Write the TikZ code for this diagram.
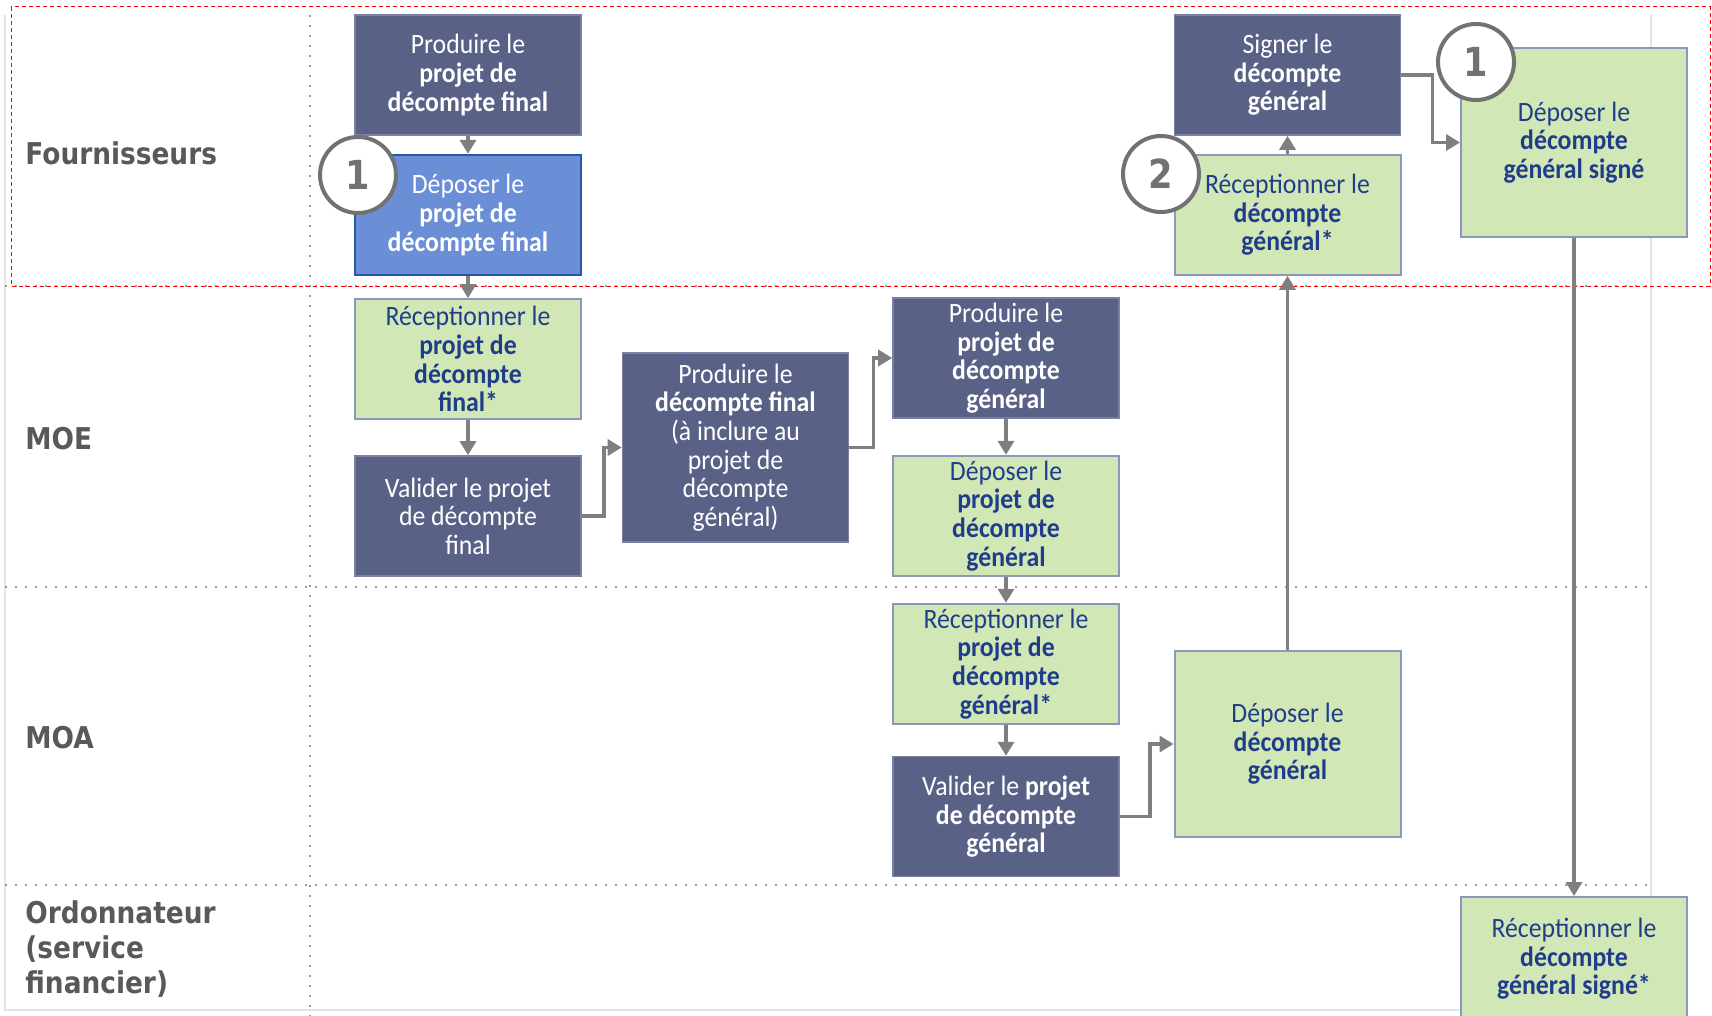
\documentclass[tikz,border=0pt]{standalone}
\usepackage{fontspec}
\setmainfont[FakeStretch=0.92]{Carlito}
\newfontfamily\lanefont[FakeStretch=0.88]{DejaVu Sans}
\usepackage{tikz}
\usetikzlibrary{
arrows.meta,
positioning
}
\definecolor{DGNavy}{HTML}{5A6186}
\definecolor{DGNavyLine}{HTML}{7A80A3}
\definecolor{DGGreenBG}{HTML}{D2E7B6}
\definecolor{DGGreenLine}{HTML}{8C97BE}
\definecolor{DGText}{HTML}{1F3D8B}
\definecolor{DGBlue}{HTML}{6A8FD6}
\definecolor{DGBlueLine}{HTML}{2B55A6}
\definecolor{DGArrow}{HTML}{7F7F7F}
\definecolor{DGLabel}{HTML}{595959}
\definecolor{DGFrame}{HTML}{E3E3E3}
\definecolor{DGDots}{HTML}{9A9A9A}
\newcommand{\dgboxfont}{\fontsize{14}{14.3}\selectfont}
\tikzset{
dgdark/.style={draw=DGNavyLine, fill=DGNavy, text=white, align=center,
  minimum width=113pt, minimum height=60pt, inner sep=1pt, line width=0.8pt, font=\dgboxfont},
dggreen/.style={draw=DGGreenLine, fill=DGGreenBG, text=DGText, align=center,
  minimum width=113pt, minimum height=60pt, inner sep=1pt, line width=1pt, font=\dgboxfont},
dgblue/.style={draw=DGBlueLine, fill=DGBlue, text=white, align=center,
  minimum width=113pt, minimum height=60pt, inner sep=1pt, line width=1.2pt, font=\dgboxfont},
dgarrow/.style={-{Triangle[length=7pt, width=8pt]}, line width=1.7pt, draw=DGArrow},
dgbadge/.style={circle, draw=DGArrow!90!black, fill=white, line width=2pt, minimum size=38pt,
  inner sep=0pt, text=DGArrow!90!black, font=\lanefont\bfseries\fontsize{20}{20}\selectfont},
dglane/.style={anchor=west, inner sep=0pt, align=left, text=DGLabel,
  font=\lanefont\bfseries\fontsize{15}{17.7}\selectfont},
dgdots/.style={draw=DGDots, line width=1.1pt, dash pattern=on 1.1pt off 3.9pt},
dgframe/.style={draw=DGFrame, line width=0.8pt},
dgred/.style={draw=red, line width=0.5pt, dash pattern=on 2pt off 1.5pt}
}

\begin{document}
\begin{tikzpicture}[x=0.5pt, y=-0.5pt, node distance=9pt]
\useasboundingbox (0,0) rectangle (1712,1016);

% couloirs
\draw[dgframe] (5,15) -- (5,1010) -- (1651,1010) -- (1651,15);
\draw[dgdots] (310,15) -- (310,1016);
\foreach \y in {286,587,885}
\draw[dgdots] (5,\y) -- (1651,\y);
\draw[dgred] (11,7) rectangle (1710,286);

\node[dglane] (fourn) at (25,153) {Fournisseurs};
\node[dglane] (moe) at (25,439) {MOE};
\node[dglane] (moa) at (25,738) {MOA};
\node[dglane] (ordo) at (25,949) {Ordonnateur\\(service\\financier)};

% decompte final
\node[dgdark] (prodfin) at (468,75) {Produire le\\\textbf{projet de}\\\textbf{décompte final}};
\node[dgblue, below=of prodfin] (depfin) {Déposer le\\\textbf{projet de}\\\textbf{décompte final}};
\node[dggreen, below=11pt of depfin] (recfin) {Réceptionner le\\\textbf{projet de}\\\textbf{décompte}\\\textbf{final*}};
\node[dgdark, below=17.5pt of recfin] (valfin) {Valider le projet\\de décompte\\final};
\node[dgdark, minimum height=94.5pt] (prodfinal) at (735.5,447.5) {Produire le\\\textbf{décompte final}\\(à inclure au\\projet de\\décompte\\général)};

% projet de decompte general
\node[dgdark] (prodgen) at (1006,358) {Produire le\\\textbf{projet de}\\\textbf{décompte}\\\textbf{général}};
\node[dggreen, below=18pt of prodgen] (depgen) {Déposer le\\\textbf{projet de}\\\textbf{décompte}\\\textbf{général}};
\node[dggreen, below=13pt of depgen] (recgen) {Réceptionner le\\\textbf{projet de}\\\textbf{décompte}\\\textbf{général*}};
\node[dgdark, below=15.5pt of recgen] (valgen) {Valider le \textbf{projet}\\\textbf{de décompte}\\\textbf{général}};

% decompte general
\node[dgdark] (signdg) at (1287.5,75) {Signer le\\\textbf{décompte}\\\textbf{général}};
\node[dggreen, below=of signdg] (recdg) {Réceptionner le\\\textbf{décompte}\\\textbf{général*}};
\node[dggreen, minimum height=93pt] (depdg) at (1287.5,744) {Déposer le\\\textbf{décompte}\\\textbf{général}};
\node[dggreen, minimum height=94.5pt] (depsig) at (1574,142.5) {Déposer le\\\textbf{décompte}\\\textbf{général signé}};
\node[dggreen, minimum height=62pt] (recsig) at (1574,959) {Réceptionner le\\\textbf{décompte}\\\textbf{général signé*}};

\foreach \a/\b in {prodfin/depfin,depfin/recfin,recfin/valfin,prodgen/depgen,depgen/recgen,recgen/valgen,depdg/recdg,recdg/signdg,depsig/recsig}
\draw[dgarrow] (\a) -- (\b);

\draw[dgarrow] (valfin.east) -- ++(22,0) |- (prodfinal.west);
\draw[dgarrow] (prodfinal.east) -- ++(24,0) |- (prodgen.west);
\draw[dgarrow] (valgen.east) -- ++(30,0) |- (depdg.west);
\draw[dgarrow] (signdg.east) -- ++(31,0) |- (depsig.west);

% etapes
\node[dgbadge] (badgeA) at (358,175) {1};
\node[dgbadge] (badgeB) at (1161,174) {2};
\node[dgbadge] (badgeC) at (1476,62) {1};
\end{tikzpicture}
\end{document}
